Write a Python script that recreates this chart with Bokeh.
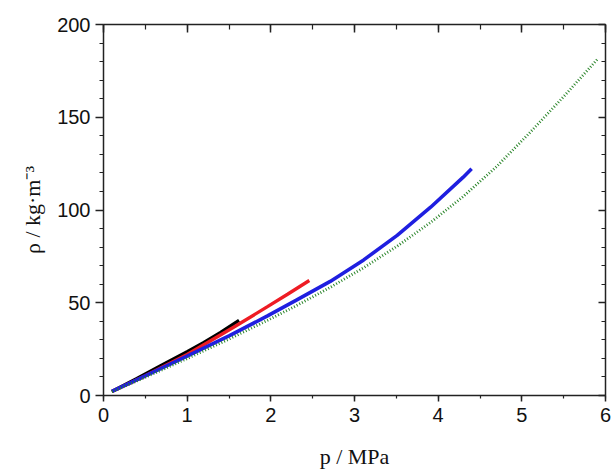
from bokeh.plotting import figure
from bokeh.models import Range1d, LinearAxis, SingleIntervalTicker, CustomJSTickFormatter
from bokeh.embed import file_html
from bokeh.resources import INLINE

# ---- data ----
black_p = [0.10, 0.40, 0.70, 1.00, 1.20, 1.40, 1.62]
black_rho = [2.2, 9.2, 16.4, 23.6, 28.6, 34.0, 40.5]

red_p = [0.10, 0.50, 1.00, 1.56, 1.96, 2.20, 2.46]
red_rho = [2.2, 10.6, 22.1, 36.9, 47.9, 54.6, 62.0]

blue_p = [0.10, 0.50, 1.00, 1.50, 1.96, 2.30, 2.71, 3.11, 3.51, 3.91, 4.30, 4.40]
blue_rho = [2.2, 10.6, 21.2, 32.1, 42.9, 51.3, 61.5, 73.1, 86.3, 101.5, 117.7, 122.2]

green_p = [0.10, 0.50, 1.00, 1.50, 1.96, 2.30, 2.71, 3.11, 3.51, 3.91, 4.30, 4.70, 5.10, 5.50, 5.90]
green_rho = [2.0, 9.8, 19.9, 30.4, 40.5, 48.3, 58.3, 68.9, 80.5, 93.3, 107.3, 123.5, 141.9, 161.1, 181.1]

x_title = "p / MPa"
y_title = "\u03c1 / kg\u00b7m\u207b\u00b3"

AX_COLOR = "#222222"
TICK_FONT = "Liberation Sans"
LABEL_FONT = "Liberation Serif"

p = figure(width=611, height=472, output_backend="svg", toolbar_location=None,
           x_range=Range1d(0, 6), y_range=Range1d(0, 200),
           x_axis_location=None, y_axis_location=None,
           min_border_left=103, min_border_right=6, min_border_top=24, min_border_bottom=77)
p.center = []
p.outline_line_color = None
p.background_fill_color = "white"
p.border_fill_color = "white"


def make_axis(ticker, labels, mt_in, mt_out, mn_in, mn_out, standoff, title=None, title_standoff=0):
    ax = LinearAxis(ticker=ticker)
    ax.axis_line_color = AX_COLOR
    ax.axis_line_width = 1.5
    ax.major_tick_line_color = AX_COLOR
    ax.major_tick_line_width = 1.5
    ax.minor_tick_line_color = AX_COLOR
    ax.minor_tick_line_width = 1.2
    ax.major_tick_in = mt_in
    ax.major_tick_out = mt_out
    ax.minor_tick_in = mn_in
    ax.minor_tick_out = mn_out
    ax.major_label_standoff = standoff
    if labels:
        ax.major_label_text_font = TICK_FONT
        ax.major_label_text_font_size = "20px"
        ax.major_label_text_color = "#111111"
    else:
        ax.formatter = CustomJSTickFormatter(code="return ''")
        ax.major_label_text_font_size = "0px"
    if title:
        ax.axis_label = title
        ax.axis_label_text_font = LABEL_FONT
        ax.axis_label_text_font_style = "normal"
        ax.axis_label_text_font_size = "22px"
        ax.axis_label_text_color = "#111111"
        ax.axis_label_standoff = title_standoff
    return ax


p.add_layout(make_axis(SingleIntervalTicker(interval=1, num_minor_ticks=2), True, 0, 6, 0, 3, 6,
                       x_title, 19), "below")
p.add_layout(make_axis(SingleIntervalTicker(interval=50, num_minor_ticks=5), True, 0, 8, 0, 4, 5,
                       y_title, 9), "left")
p.add_layout(make_axis(SingleIntervalTicker(interval=1, num_minor_ticks=2), False, 8, 0, 5, 0, 0), "above")
p.add_layout(make_axis(SingleIntervalTicker(interval=50, num_minor_ticks=5), False, 7, 0, 4, 0, 0), "right")

p.line(black_p, black_rho, line_color="black", line_width=3.4)
p.line(red_p, red_rho, line_color="#ee1c24", line_width=3.4)
p.line(blue_p, blue_rho, line_color="#1f1fe0", line_width=3.6)
p.line(green_p, green_rho, line_color="#2a852a", line_width=2.8, line_dash="1 2")

open("out.html", "w").write(file_html(p, INLINE))
